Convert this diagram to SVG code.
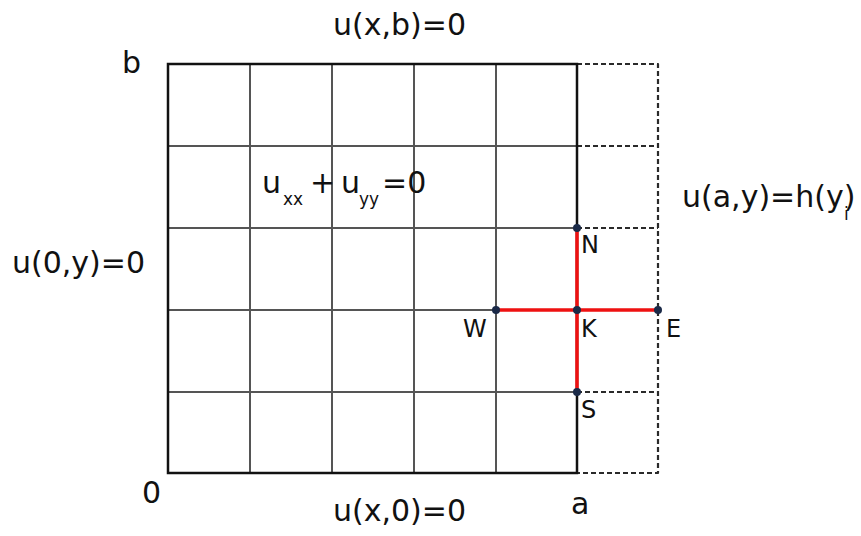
<svg xmlns="http://www.w3.org/2000/svg" width="861" height="536" viewBox="0 0 861 536">
<style>
text{font-family:"DejaVu Sans","Liberation Sans",sans-serif;fill:#111}
.lbl{font-size:30px}
.sub{font-size:17px}
.nl{font-size:24px}
.grid{stroke:#555;stroke-width:2;fill:none}
.border{stroke:#111;stroke-width:2.5;fill:none}
.dash{stroke:#2a2a2a;stroke-width:2.2;stroke-dasharray:5 3;fill:none;stroke-linejoin:round}
.red{stroke:#ee1111;stroke-width:3.5;fill:none}
.dot{fill:#1b2a48}
</style>
<rect width="861" height="536" fill="#fff"/>
<g id="grid">
<path class="grid" d="M250 64V473M332 64V473M414 64V473M496 64V473M168 146H577M168 228H577M168 310H577M168 392H577"/>
<path class="dash" d="M577 64H658V473H577M577 146H658M577 228H658M577 310H658M577 392H658"/>
<path class="border" d="M577 64H168V473H577Z"/>
</g>
<g id="connectors">
<path class="red" d="M577 228V392M496 310H658"/>
</g>
<g id="node-N"><circle class="dot" cx="577" cy="228" r="4"/><text class="nl" x="581" y="253">N</text></g>
<g id="node-W"><circle class="dot" cx="496" cy="310" r="4"/><text class="nl" x="463" y="337">W</text></g>
<g id="node-K"><circle class="dot" cx="577" cy="310" r="4"/><text class="nl" x="581" y="337">K</text></g>
<g id="node-E"><circle class="dot" cx="658" cy="310" r="4"/><text class="nl" x="666" y="337">E</text></g>
<g id="node-S"><circle class="dot" cx="577" cy="392" r="4"/><text class="nl" x="581" y="418">S</text></g>
<g id="labels">
<text class="lbl" x="333" y="35">u(x,b)=0</text>
<text class="lbl" x="333" y="521">u(x,0)=0</text>
<text class="lbl" x="12" y="273">u(0,y)=0</text>
<text class="lbl" x="122" y="73">b</text>
<text class="lbl" x="142" y="503">0</text>
<text class="lbl" x="571" y="514">a</text>
<text class="lbl" x="682" y="207">u(a,y)=h(y)</text>
<text class="sub" x="844" y="220">i</text>
<text class="lbl" x="262" y="193">u</text>
<text class="sub" x="283" y="205">xx</text>
<text class="lbl" x="310" y="193">+</text>
<text class="lbl" x="341" y="193">u</text>
<text class="sub" x="359" y="205">yy</text>
<text class="lbl" x="382" y="193">=0</text>
</g>
</svg>
